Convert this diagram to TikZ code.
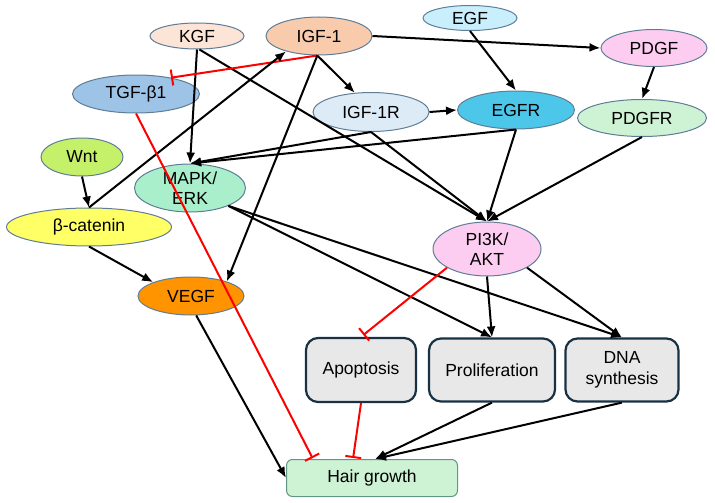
\documentclass[tikz,border=0pt]{standalone}
\usepackage{fontspec}
\setmainfont{Liberation Sans}
\usepackage{tikz}
\usetikzlibrary{calc,shapes,arrows,arrows.meta,positioning}
\definecolor{ovalline}{RGB}{95,125,150}
\definecolor{boxline}{RGB}{24,50,68}
\definecolor{hairline}{RGB}{100,150,135}
\definecolor{kgfc}{RGB}{252,228,214}
\definecolor{igfc}{RGB}{248,203,173}
\definecolor{tgfc}{RGB}{157,195,230}
\definecolor{wntc}{RGB}{197,240,105}
\definecolor{mapkc}{RGB}{169,239,203}
\definecolor{bcatc}{RGB}{255,255,102}
\definecolor{egfc}{RGB}{201,239,252}
\definecolor{pinkc}{RGB}{253,205,241}
\definecolor{igfrc}{RGB}{221,235,247}
\definecolor{egfrc}{RGB}{76,199,234}
\definecolor{greenc}{RGB}{205,242,212}
\definecolor{vegfc}{RGB}{255,147,0}
\definecolor{boxfill}{RGB}{232,232,232}
\definecolor{inhred}{RGB}{255,0,0}
\tikzstyle{oval} = [ellipse, draw=ovalline, line width=1pt, inner sep=0pt, align=center, font=\fontsize{17.5}{20}\selectfont]
\tikzstyle{box} = [rectangle, rounded corners=12pt, draw=boxline, fill=boxfill, line width=2.2pt, inner sep=0pt, align=center, font=\fontsize{17.5}{21}\selectfont]
\tikzstyle{arrow} = [line width=2pt,->,>={Latex[length=11pt,width=9pt]}]
\tikzstyle{inhib} = [line width=2pt,draw=inhred,-{Bar[width=16pt,line width=2pt]}]

\begin{document}
\begin{tikzpicture}[x=1pt,y=-1pt]
\useasboundingbox (0,0) rectangle (715,503);
\node (KGF) [oval, fill=kgfc, minimum width=94pt, minimum height=26pt] at (197,36) {KGF};
\node (IGF1) [oval, fill=igfc, minimum width=106pt, minimum height=38pt] at (319,36) {IGF-1};
\node (TGF) [oval, fill=tgfc, minimum width=127pt, minimum height=38pt] at (136,94) {TGF-β1};
\node (Wnt) [oval, fill=wntc, minimum width=82pt, minimum height=38pt] at (82,157) {Wnt};
\node (MAPK) [oval, fill=mapkc, minimum width=111pt, minimum height=48pt] at (190,188) {MAPK/\\ERK};
\node (bcat) [oval, fill=bcatc, minimum width=165pt, minimum height=38pt] at (89,227) {β-catenin};
\node (EGF) [oval, fill=egfc, minimum width=94pt, minimum height=25pt] at (470,18) {EGF};
\node (PDGF) [oval, fill=pinkc, minimum width=106pt, minimum height=37pt] at (654,48) {PDGF};
\node (IGF1R) [oval, fill=igfrc, minimum width=116pt, minimum height=39pt] at (371,112) {IGF-1R};
\node (EGFR) [oval, fill=egfrc, minimum width=117pt, minimum height=38pt] at (516,110) {EGFR};
\node (PDGFR) [oval, fill=greenc, minimum width=129pt, minimum height=37pt] at (642,118) {PDGFR};
\node (PI3K) [oval, fill=pinkc, minimum width=108pt, minimum height=54pt] at (487,249) {PI3K/\\AKT};
\node (VEGF) [oval, fill=vegfc, minimum width=106pt, minimum height=38pt] at (191,296) {VEGF};
\node (apop) [box, minimum width=110pt, minimum height=64pt] at (361,370) {Apoptosis};
\node (prolif) [box, minimum width=126pt, minimum height=63pt] at (492,370) {Proliferation};
\node (dna) [box, minimum width=113pt, minimum height=63pt] at (622,370) {DNA\\synthesis};
\node (hair) [rectangle, rounded corners=6pt, draw=hairline, fill=greenc, line width=1pt, minimum width=171pt, minimum height=37pt, font=\fontsize{17.5}{20}\selectfont] at (372,478) {Hair growth};
\draw [arrow] (KGF.south) -- (MAPK.north);
\draw [arrow] (KGF.-80) -- (PI3K.north);
\draw [inhib] (IGF1.265) -- (TGF.25);
\draw [arrow] (IGF1.265) -- (IGF1R.130);
\draw [arrow] (IGF1.265) -- (VEGF.22);
\draw [arrow] (IGF1.east) -- (PDGF.west);
\draw [arrow] (bcat.north) -- (IGF1.205);
\draw [arrow] (Wnt.south) -- (bcat.north);
\draw [arrow] (bcat.south) -- (VEGF.160);
\draw [inhib, shorten >=1pt] (TGF.south) -- ([xshift=-59pt]hair.north);
\draw [arrow] (EGF.south) -- (EGFR.north);
\draw [arrow] (PDGF.south) -- (PDGFR.north);
\draw [arrow] (IGF1R.east) -- (EGFR.west);
\draw [arrow] (IGF1R.south) -- (MAPK.north);
\draw [arrow] (EGFR.south) -- (MAPK.north);
\draw [arrow] (IGF1R.south) -- (PI3K.north);
\draw [arrow] (EGFR.south) -- (PI3K.north);
\draw [arrow] (PDGFR.south) -- (PI3K.north);
\draw [arrow] (MAPK.-25) -- (prolif.north);
\draw [arrow] (MAPK.-25) -- (dna.north);
\draw [inhib, shorten >=3pt] (PI3K.205) -- (apop.north);
\draw [arrow] (PI3K.south) -- (prolif.north);
\draw [arrow] (PI3K.-25) -- (dna.north);
\draw [arrow] (VEGF.-75) -- (hair.west);
\draw [inhib, shorten >=1pt] (apop.south) -- ([xshift=-19pt]hair.north);
\draw [arrow] (prolif.south) -- ([xshift=3pt]hair.north);
\draw [arrow] (dna.south) -- ([xshift=3pt]hair.north);
\end{tikzpicture}
\end{document}
